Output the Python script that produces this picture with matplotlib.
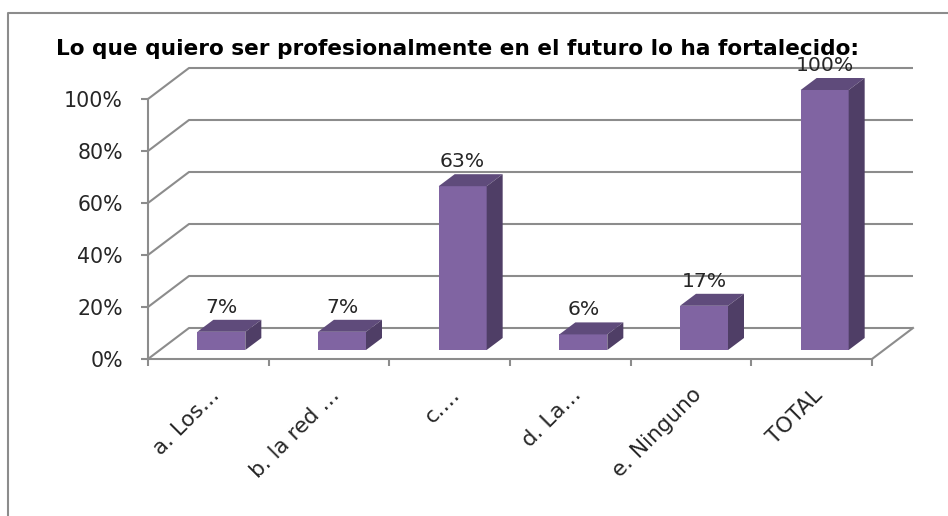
import numpy as np
import matplotlib.pyplot as plt
from matplotlib.patches import Polygon
from matplotlib.lines import Line2D
from matplotlib.transforms import ScaledTranslation

categories = ['a. Los…', 'b. la red …', 'c.…', 'd. La…', 'e. Ninguno', 'TOTAL']
values = [7, 7, 63, 6, 17, 100]
yticks = [0, 20, 40, 60, 80, 100]
title = 'Lo que quiero ser profesionalmente en el futuro lo ha fortalecido:'

W, H = 948, 516
DPI = 100

# pixel layout of the front plane (x: categories, y: percent)
x0_px, x1_px = 148, 872      # category 0 .. 6
y0_px, y100_px = 359, 99     # 0% .. 100%
back_dx_px, back_dy_px = 41, 31

px_x = (x1_px - x0_px) / len(categories)   # px per category
px_y = (y0_px - y100_px) / 100.0           # px per percent

DEPTH_X = back_dx_px / px_x
DEPTH_Y = back_dy_px / px_y

# bar geometry (px -> data units)
bar_w = 48 / px_x
front_dx, front_dy = 13 / px_x, 9 / px_y
bar_dx, bar_dy = 16 / px_x, 12 / px_y

c_front = '#8064A2'
c_top = '#5F4B7B'
c_side = '#4F3E66'
c_grid = '#8C8C8C'
c_text = '#262626'

fig = plt.figure(figsize=(W / DPI, H / DPI), dpi=DPI)
n = len(categories)
ax = fig.add_axes([x0_px / W, 1 - y0_px / H,
                   (x1_px + back_dx_px - x0_px) / W,
                   (y0_px - y100_px + back_dy_px) / H])
ax.set_xlim(0, n + DEPTH_X)
ax.set_ylim(0, 100 + DEPTH_Y)
ax.patch.set_alpha(0)

# gridlines: oblique on the left wall, then along the back wall
for t in yticks:
    ax.plot([0, DEPTH_X, n + DEPTH_X], [t, t + DEPTH_Y, t + DEPTH_Y],
            color=c_grid, lw=1.5, solid_capstyle='butt', clip_on=False, zorder=1)
# right edge of floor
ax.plot([n, n + DEPTH_X], [0, DEPTH_Y], color=c_grid, lw=1.5, clip_on=False, zorder=1)

# bars
for i, v in enumerate(values):
    xl = i + 0.5 - bar_w / 2 + front_dx
    xr = xl + bar_w
    yb = front_dy
    yt = yb + v
    front = Polygon([(xl, yb), (xr, yb), (xr, yt), (xl, yt)], closed=True,
                    facecolor=c_front, edgecolor='none', zorder=3)
    top = Polygon([(xl, yt), (xr, yt), (xr + bar_dx, yt + bar_dy), (xl + bar_dx, yt + bar_dy)],
                  closed=True, facecolor=c_top, edgecolor='none', zorder=3)
    side = Polygon([(xr, yb), (xr + bar_dx, yb + bar_dy), (xr + bar_dx, yt + bar_dy), (xr, yt)],
                   closed=True, facecolor=c_side, edgecolor='none', zorder=3)
    for p in (front, top, side):
        ax.add_patch(p)
    lab_tr = ax.transData + ScaledTranslation(0, 7 / DPI, fig.dpi_scale_trans)
    ax.text((xl + xr) / 2, yt + bar_dy, f'{v}%', ha='center', va='baseline',
            fontsize=14.7, color=c_text, transform=lab_tr, zorder=4)

# axes lines
for s in ('top', 'right'):
    ax.spines[s].set_visible(False)
ax.spines['left'].set_bounds(0, 100)
ax.spines['bottom'].set_bounds(0, n)
for s in ('left', 'bottom'):
    ax.spines[s].set_color(c_grid)
    ax.spines[s].set_linewidth(1.5)

ax.set_yticks(yticks)
ax.set_yticklabels([f'{t}%' for t in yticks])
ax.tick_params(axis='y', length=5, width=1.5, color=c_grid, pad=13,
               labelsize=14.8, labelcolor=c_text)
ax.set_xticks(np.arange(n + 1))
ax.set_xticklabels([])
ax.tick_params(axis='x', length=5, width=1.5, color=c_grid)

# rotated category labels
for i, lab in enumerate(categories):
    tr = ax.transData + ScaledTranslation(12 / DPI, -37 / DPI, fig.dpi_scale_trans)
    ax.text(i + 0.5, 0, lab, rotation=45, rotation_mode='anchor', ha='right', va='baseline',
            fontsize=15.5, color=c_text, transform=tr)

# title
fig.text(56 / W, 1 - 55 / H, title, ha='left', va='baseline', fontsize=15.6,
         fontweight='bold', color='black')

# chart area border (left and top)
fig.add_artist(Line2D([8 / W, 8 / W, 1], [0, 1 - 13 / H, 1 - 13 / H],
                      transform=fig.transFigure, color='#8C8C8C', lw=1.5))

fig.savefig('out.png', dpi=DPI)
